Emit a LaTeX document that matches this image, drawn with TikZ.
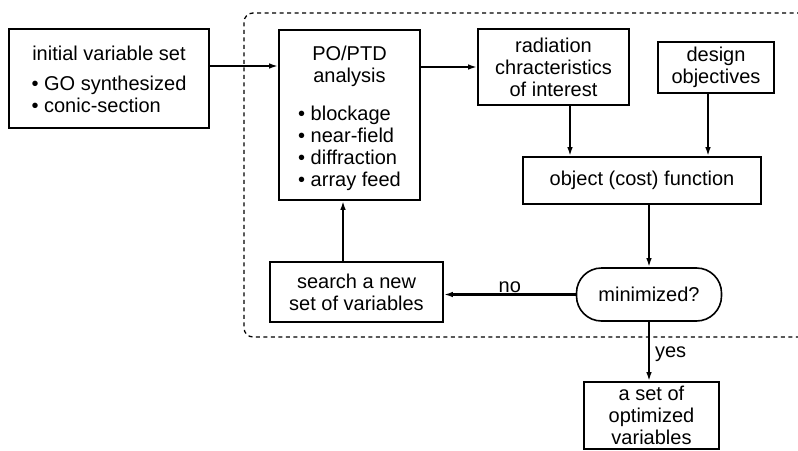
\documentclass[tikz,border=0pt]{standalone}
\usepackage{fontspec}
\setmainfont{Liberation Sans}
\usetikzlibrary{arrows.meta,calc}
\begin{document}
\begin{tikzpicture}[x=1pt,y=1pt,
  txt/.style={font=\fontsize{20}{22}\selectfont},
  box/.style={draw, line width=1.6pt, align=center, inner sep=0pt, txt},
  arr/.style={line width=2.1pt, -{Latex[length=9pt,width=5.5pt]}},
  lbl/.style={txt, inner sep=2pt},
  group/.style={draw, line width=1.3pt, dash pattern=on 4pt off 3.5pt, rounded corners=9pt, minimum width=566, minimum height=324, inner sep=0pt}]
\useasboundingbox (0,0) rectangle (798,-450);
\clip (0,0) rectangle (798,-450);

\node[group] (loop) at (527,-175) {};

\node[box, minimum width=200, minimum height=99] (init) at (109,-78.5)
  {\begin{tabular}{@{}l@{}}\multicolumn{1}{@{}c@{}}{initial variable set}\\[8pt]
   • GO synthesized\\ • conic-section\\[-8pt]\end{tabular}};
\node[box, minimum width=141, minimum height=170] (po) at (349.5,-115)
  {\begin{tabular}{@{}l@{}}\multicolumn{1}{@{}c@{}}{PO/PTD}\\ \multicolumn{1}{@{}c@{}}{analysis}\\[16pt]
   • blockage\\ • near-field\\ • diffraction\\ • array feed\\[-9pt]\end{tabular}};
\node[box, minimum width=151, minimum height=76] (rad) at (553.5,-67)
  {radiation\\ chracteristics\\ of interest};
\node[box, minimum width=116, minimum height=51] (des) at (716,-67.5)
  {design\\ objectives};
\node[box, minimum width=238, minimum height=47] (obj) at (642,-180.5)
  {object (cost) function};
\node[box, minimum width=173, minimum height=60] (search) at (356.5,-292)
  {search a new\\ set of variables};
\node[box, minimum width=145, minimum height=53, rounded corners=25pt] (min) at (649,-294.5)
  {minimized?};
\node[box, minimum width=135, minimum height=67] (opt) at (651.5,-415.5)
  {a set of\\ optimized\\ variables};

\draw[arr] ([yshift=12.5pt]init.east) -- ([yshift=12.5pt]init.east -| po.west);
\draw[arr] (rad.west -| po.east) -- (rad.west);
\draw[arr] ([xshift=16.5pt]rad.south) -- ([xshift=16.5pt]rad.south |- obj.north);
\draw[arr] ([xshift=-8pt]des.south) -- ([xshift=-8pt]des.south |- obj.north);
\draw[arr] (obj.south -| min.north) -- (min.north);
\draw[arr] (min.west) -- (min.west -| search.east)
  node[lbl, pos=0.5, above=-1pt] {no};
\draw[arr] ([xshift=-13.5pt]search.north) -- ([xshift=-13.5pt]search.north |- po.south);
\draw[arr] (min.south) -- (min.south |- opt.north)
  node[lbl, pos=0.55, right=3pt] {yes};
\end{tikzpicture}
\end{document}
